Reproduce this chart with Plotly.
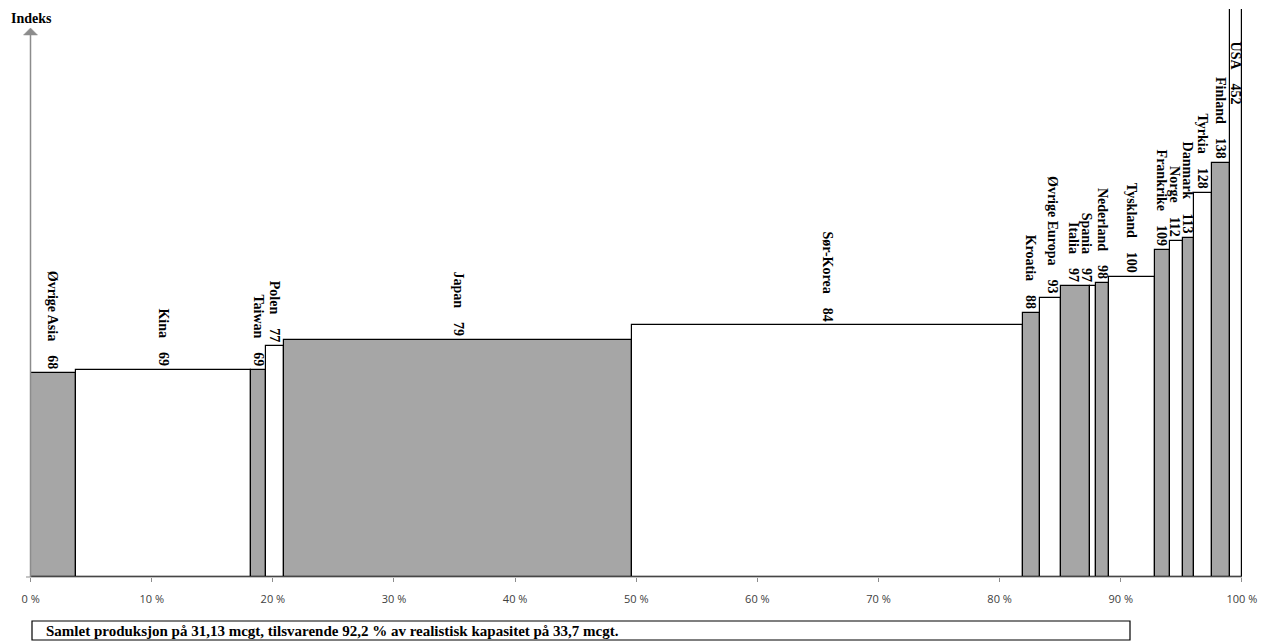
import numpy as np
import plotly.graph_objects as go

# Production share (% of total) and cost index per producer country
countries = ["Øvrige Asia", "Kina", "Taiwan", "Polen", "Japan", "Sør-Korea",
             "Kroatia", "Øvrige Europa", "Italia", "Spania", "Nederland",
             "Tyskland", "Frankrike", "Norge", "Danmark", "Tyrkia", "Finland", "USA"]
shares = [3.73, 14.49, 1.19, 1.48, 28.80, 32.21,
          1.43, 1.74, 2.39, 0.47, 1.13,
          3.76, 1.24, 1.07, 0.91, 1.49, 1.49, 0.98]
index_values = [68, 69, 69, 77, 79, 84,
                88, 93, 97, 97, 98,
                100, 109, 112, 113, 128, 138, 452]
x_ticks = [0, 10, 20, 30, 40, 50, 60, 70, 80, 90, 100]
x_ticktext = [f"{t} %" for t in x_ticks]
footnote = "Samlet produksjon på 31,13 mcgt, tilsvarende 92,2 % av realistisk kapasitet på 33,7 mcgt."

# ---- page geometry -------------------------------------------------------
W, H = 1265, 641
ML, MR, MT, MB = 30, 23, 9, 64
PLOT_W, PLOT_H = W - ML - MR, H - MT - MB
X_RANGE = [-0.05, 100.01]
PX_PER_PCT = PLOT_W / (X_RANGE[1] - X_RANGE[0])
PX_PER_IDX = 3.0
Y_TOP = PLOT_H / PX_PER_IDX
Y_RANGE = [0, Y_TOP]
BASE_PX = H - MB


def yd(py):
    """page pixel -> y data value"""
    return (BASE_PX - py) / PX_PER_IDX


def xp(px):
    """page pixel -> x paper fraction"""
    return (px - ML) / PLOT_W


def yp(py):
    """page pixel -> y paper fraction"""
    return (BASE_PX - py) / PLOT_H


GREY = "#A6A6A6"
AXIS_GREY = "#8C8C8C"
SERIF = "Liberation Serif, Times New Roman, serif"

starts = np.concatenate([[0], np.cumsum(shares)[:-1]])
centers = starts + np.array(shares) / 2
colors = [GREY if i % 2 == 0 else "white" for i in range(len(countries))]

fig = go.Figure()
fig.add_trace(go.Bar(
    x=centers, y=index_values, width=shares, base=0,
    marker=dict(color=colors, line=dict(color="black", width=1.2)),
    hoverinfo="skip", showlegend=False,
))

# rotated labels above each column
label_xshift = {"Øvrige Europa": 2.5, "Italia": -1.5, "Spania": -6, "Norge": -2}
gap = "\u00a0" * 4
annotations = []
for name, c, v in zip(countries, centers, index_values):
    text = f"<b>{name}{gap}{v}</b>"
    if v > Y_TOP:
        annotations.append(dict(
            x=c, y=yd(40), text=text, textangle=90, showarrow=False,
            xanchor="center", yanchor="top", xshift=label_xshift.get(name, 0),
            font=dict(family=SERIF, size=14, color="black")))
    else:
        annotations.append(dict(
            x=c, y=v, text=text, textangle=90, showarrow=False,
            xanchor="center", yanchor="bottom", yshift=2,
            xshift=label_xshift.get(name, 0),
            font=dict(family=SERIF, size=14, color="black")))

# axis title
annotations.append(dict(
    xref="paper", yref="paper", x=xp(9), y=yp(18), text="<b>Indeks</b>",
    showarrow=False, xanchor="left", yanchor="middle",
    font=dict(family=SERIF, size=14, color="black")))

# footnote inside a box below the axis
annotations.append(dict(
    xref="paper", yref="paper", x=xp(44), y=yp(631), text=f"<b>{footnote}</b>",
    showarrow=False, xanchor="left", yanchor="middle",
    font=dict(family=SERIF, size=15, color="black")))

tip_x, tip_y = xp(30.5), yp(28)
head_w, head_h = 7 / PLOT_W, 7 / PLOT_H
shapes = [
    # horizontal axis line
    dict(type="line", xref="paper", yref="paper", x0=xp(26), x1=xp(1242),
         y0=0, y1=0, line=dict(color=AXIS_GREY, width=1.2), layer="above"),
    # vertical axis line with arrow head
    dict(type="line", xref="paper", yref="paper", x0=tip_x, x1=tip_x,
         y0=0, y1=yp(34), line=dict(color=AXIS_GREY, width=1.5), layer="above"),
    dict(type="path", xref="paper", yref="paper",
         path=(f"M {tip_x - head_w} {tip_y - head_h} L {tip_x + head_w} {tip_y - head_h} "
               f"L {tip_x} {tip_y} Z"),
         fillcolor=AXIS_GREY, line=dict(color=AXIS_GREY, width=0.5), layer="above"),
    # footnote frame
    dict(type="rect", xref="paper", yref="paper", x0=xp(32), x1=xp(1130),
         y0=yp(640), y1=yp(621), line=dict(color="black", width=1.2),
         fillcolor="rgba(0,0,0,0)"),
]

fig.update_layout(
    width=W, height=H,
    margin=dict(l=ML, r=MR, t=MT, b=MB, pad=0),
    paper_bgcolor="white", plot_bgcolor="white",
    bargap=0,
    xaxis=dict(range=X_RANGE, tickvals=x_ticks, ticktext=x_ticktext,
               ticks="outside", ticklen=4, tickcolor=AXIS_GREY, tickwidth=1,
               showgrid=False, zeroline=False, showline=False,
               ticklabelstandoff=8,
               tickfont=dict(family="Open Sans, sans-serif", size=11, color="#404040")),
    yaxis=dict(range=Y_RANGE, showgrid=False, zeroline=False, showline=False,
               showticklabels=False, ticks=""),
    annotations=annotations,
    shapes=shapes,
)

fig.write_html("out.html")
